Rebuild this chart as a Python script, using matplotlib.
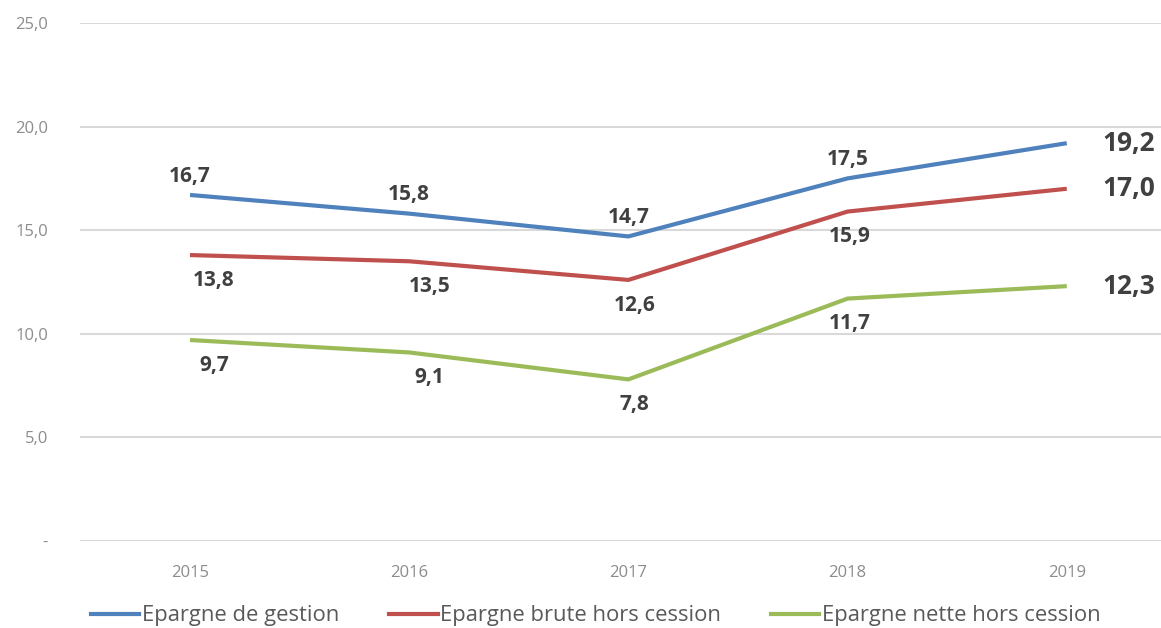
import matplotlib.pyplot as plt
from matplotlib.lines import Line2D

years = ["2015", "2016", "2017", "2018", "2019"]
gestion = [16.7, 15.8, 14.7, 17.5, 19.2]
brute = [13.8, 13.5, 12.6, 15.9, 17.0]
nette = [9.7, 9.1, 7.8, 11.7, 12.3]

series_names = ["Epargne de gestion", "Epargne brute hors cession", "Epargne nette hors cession"]
colors = ["#4F81BD", "#C0504D", "#9BBB59"]

plt.rcParams['font.family'] = ['Open Sans', 'DejaVu Sans']

fig = plt.figure(figsize=(11.61, 6.28), dpi=100)
ax = fig.add_axes([80 / 1161, 1 - 541 / 628, 1 - 80 / 1161, 518 / 628])

x = list(range(len(years)))
for vals, c in zip([gestion, brute, nette], colors):
    ax.plot(x, vals, color=c, linewidth=3, solid_capstyle='butt', zorder=3)

def fmt(v):
    return f"{v:.1f}".replace(".", ",")

# point labels: blue above, red/green below, last point to the right in bigger type
below_dx = [24, 20, 6, 2, 0]
for i in range(len(years) - 1):
    ax.annotate(fmt(gestion[i]), (x[i], gestion[i]), xytext=(0, 6), textcoords='offset points',
                ha='center', va='bottom', fontsize=15, fontweight='bold', color='#404040')
    for vals in (brute, nette):
        ax.annotate(fmt(vals[i]), (x[i], vals[i]), xytext=(below_dx[i] * 0.72, -10.5),
                    textcoords='offset points', ha='center', va='top',
                    fontsize=15, fontweight='bold', color='#404040')
for vals in (gestion, brute, nette):
    ax.annotate(fmt(vals[-1]), (x[-1], vals[-1]), xytext=(26, 0), textcoords='offset points',
                ha='left', va='center', fontsize=19, fontweight='bold', color='#404040',
                annotation_clip=False)

ax.set_xlim(-0.502, 4.43)
ax.set_ylim(0, 25)
ax.set_yticks([0, 5, 10, 15, 20, 25])
ax.set_yticklabels(["-", "5,0", "10,0", "15,0", "20,0", "25,0"])
ax.set_xticks(x)
ax.set_xticklabels(years)
ax.tick_params(axis='y', length=0, pad=23, labelsize=12, labelcolor='#8c8c8c')
ax.tick_params(axis='x', length=0, pad=17, labelsize=12, labelcolor='#8c8c8c')
ax.yaxis.grid(True, color='#d9d9d9', linewidth=1.5)
ax.set_axisbelow(True)
for s in ax.spines.values():
    s.set_visible(False)

handles = [Line2D([0], [0], color=c, linewidth=3) for c in colors]
fig.legend(handles, series_names, loc='center', bbox_to_anchor=(0.513, 1 - 616 / 628), ncol=3,
           frameon=False, fontsize=15.8, labelcolor='#595959', handlelength=2.2,
           handletextpad=0.1, columnspacing=2.3)

fig.savefig("out.png", dpi=100, facecolor='white')
